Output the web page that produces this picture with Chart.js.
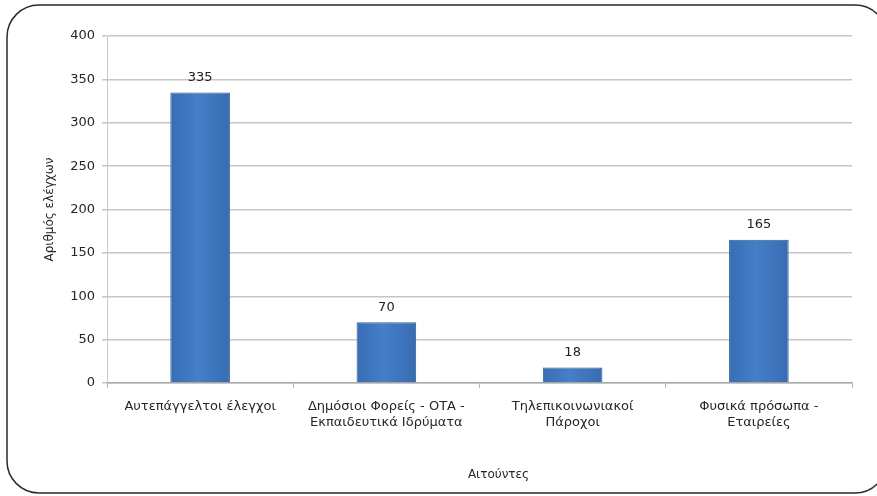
<!DOCTYPE html>
<html>
<head>
<meta charset="utf-8">
<script src="https://cdn.jsdelivr.net/npm/chart.js@4"></script>
<style>
  html, body { margin: 0; padding: 0; background: #fff; }
  #wrap { width: 877px; height: 496px; }
</style>
</head>
<body>
<div id="wrap"><canvas id="c" width="877" height="496"></canvas></div>
<script>
// Requesters and number of inspections
const categories = [
  ['Αυτεπάγγελτοι έλεγχοι'],
  ['Δημόσιοι Φορείς - ΟΤΑ -', 'Εκπαιδευτικά Ιδρύματα'],
  ['Τηλεπικοινωνιακοί', 'Πάροχοι'],
  ['Φυσικά πρόσωπα -', 'Εταιρείες']
];
const inspections = [335, 70, 18, 165];
const yTicks = [0, 50, 100, 150, 200, 250, 300, 350, 400];
const yTitle = 'Αριθμός ελέγχων';
const xTitle = 'Αιτούντες';

const FONT = "'DejaVu Sans', sans-serif";
const TEXT = '#262626';

// Horizontal shading across each bar
function barFill(ctx) {
  const meta = ctx.chart.getDatasetMeta(ctx.datasetIndex);
  const el = meta.data[ctx.dataIndex];
  if (!el || !isFinite(el.x) || !isFinite(el.width)) return '#3f76c0';
  const g = ctx.chart.ctx.createLinearGradient(el.x - el.width / 2, 0, el.x + el.width / 2, 0);
  g.addColorStop(0, '#386db3');
  g.addColorStop(0.45, '#457fc8');
  g.addColorStop(1, '#386cb1');
  return g;
}

// Rounded frame around the whole chart
const framePlugin = {
  id: 'frame',
  beforeDraw(chart) {
    const c = chart.ctx;
    c.save();
    c.fillStyle = '#ffffff';
    c.fillRect(0, 0, chart.width, chart.height);
    const x = 7, y = 5, w = 880, h = 488, r = 32;
    c.beginPath();
    c.moveTo(x + r, y);
    c.lineTo(x + w - r, y);
    c.arcTo(x + w, y, x + w, y + r, r);
    c.lineTo(x + w, y + h - r);
    c.arcTo(x + w, y + h, x + w - r, y + h, r);
    c.lineTo(x + r, y + h);
    c.arcTo(x, y + h, x, y + h - r, r);
    c.lineTo(x, y + r);
    c.arcTo(x, y, x + r, y, r);
    c.closePath();
    c.strokeStyle = '#2a2a2a';
    c.lineWidth = 1.5;
    c.stroke();
    c.restore();
  }
};

// Value above each bar and the category-axis title
const labelPlugin = {
  id: 'valueLabels',
  afterDatasetsDraw(chart) {
    const c = chart.ctx;
    const meta = chart.getDatasetMeta(0);
    const data = chart.data.datasets[0].data;
    c.save();
    c.font = '13px ' + FONT;
    c.fillStyle = '#222222';
    c.textAlign = 'center';
    c.textBaseline = 'middle';
    meta.data.forEach((el, i) => {
      c.fillText(String(data[i]), el.x, el.y - 15);
    });
    const a = chart.chartArea;
    c.font = '12px ' + FONT;
    c.fillStyle = TEXT;
    c.fillText(xTitle, (a.left + a.right) / 2 + 19, 475);
    c.restore();
  }
};

const chart = new Chart(document.getElementById('c'), {
  type: 'bar',
  data: {
    labels: categories,
    datasets: [{
      data: inspections,
      backgroundColor: barFill,
      borderColor: '#2d5d97',
      borderWidth: 1,
      borderSkipped: 'bottom',
      barPercentage: 0.32,
      categoryPercentage: 1.0
    }]
  },
  options: {
    responsive: false,
    animation: false,
    layout: { padding: { left: 39, right: 25, top: 36, bottom: 0 } },
    plugins: {
      legend: { display: false },
      tooltip: { enabled: false }
    },
    scales: {
      x: {
        afterFit(scale) { scale.height = 113; },
        grid: {
          display: true,
          drawOnChartArea: false,
          drawTicks: true,
          tickLength: 5,
          color: '#b5b5b5',
          lineWidth: 1,
          offset: true
        },
        border: { display: true, color: '#a9a9a9', width: 1.5 },
        ticks: {
          color: TEXT,
          font: { family: FONT, size: 13, lineHeight: 1.22 },
          padding: 11,
          maxRotation: 0,
          autoSkip: false
        }
      },
      y: {
        min: 0,
        max: 400,
        afterFit(scale) { scale.width = 68; },
        afterBuildTicks(scale) { scale.ticks = yTicks.map(v => ({ value: v })); },
        grid: {
          color: '#c6c6c6',
          lineWidth: 1.5,
          drawTicks: true,
          tickLength: 5
        },
        border: { display: true, color: '#c8c8c8', width: 1 },
        ticks: {
          color: TEXT,
          font: { family: FONT, size: 13 },
          padding: 7
        },
        title: {
          display: true,
          text: yTitle,
          color: TEXT,
          font: { family: FONT, size: 12 },
          padding: { top: 4, bottom: 4 }
        }
      }
    }
  },
  plugins: [framePlugin, labelPlugin]
});
chart.update();
</script>
</body>
</html>
